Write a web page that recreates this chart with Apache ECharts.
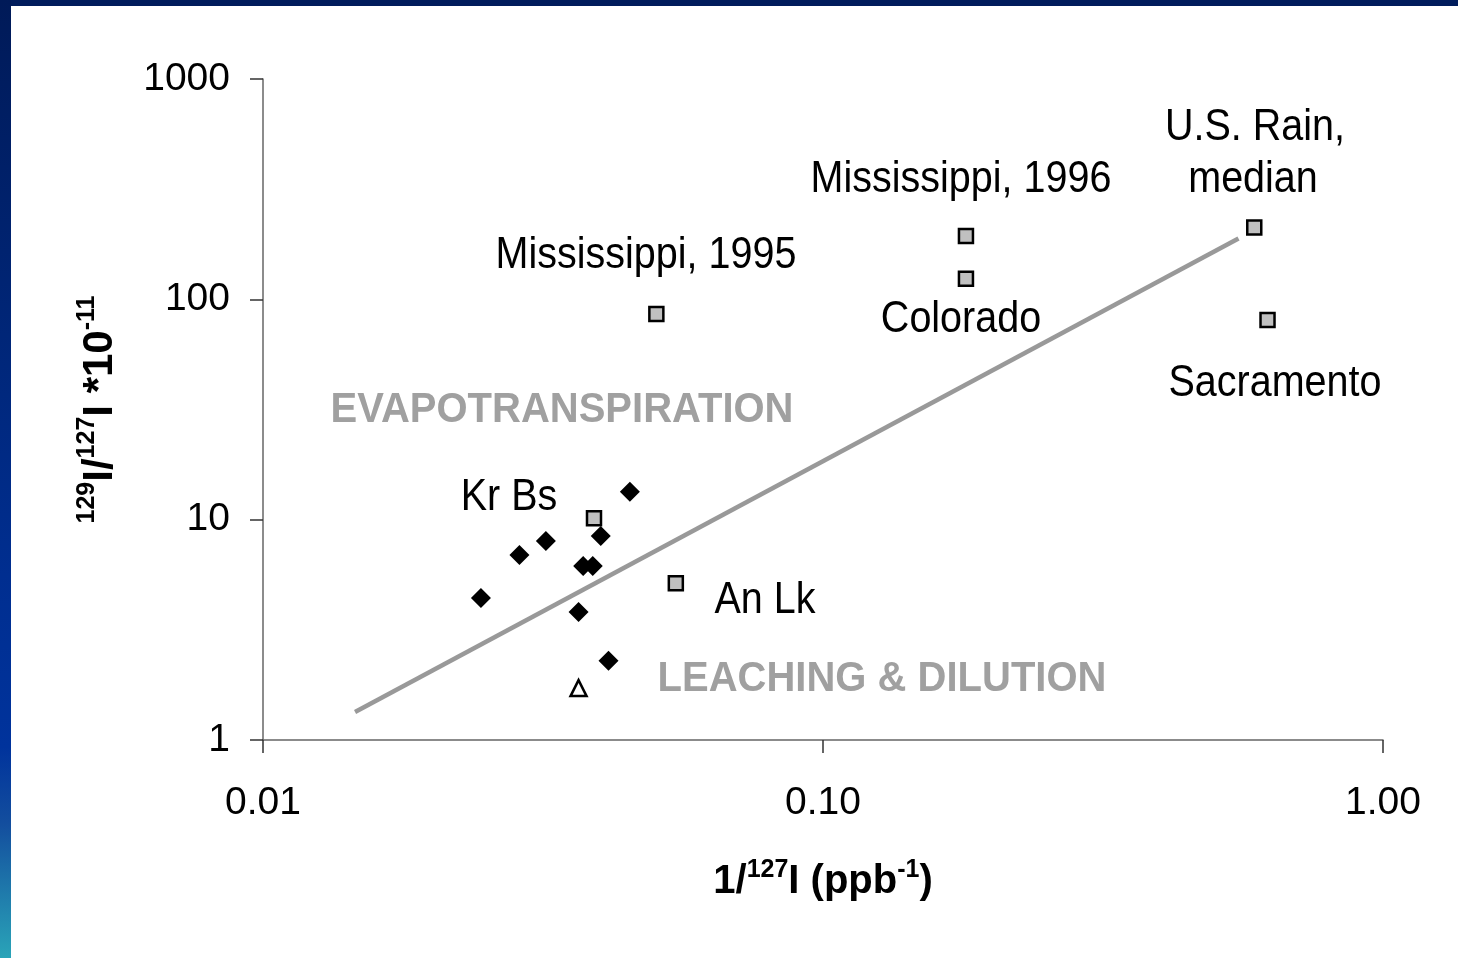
<!DOCTYPE html>
<html>
<head>
<meta charset="utf-8">
<title>Iodine isotope ratios</title>
<script src="https://cdn.jsdelivr.net/npm/echarts@6/dist/echarts.min.js"></script>
<style>
  html, body { margin: 0; padding: 0; background: #ffffff; }
  #chart { width: 1458px; height: 958px; }
</style>
</head>
<body>
<div id="chart"></div>
<script>
// Tick labels of the two log axes
const xTickValues = [0.01, 0.1, 1];
const xTickLabels = ['0.01', '0.10', '1.00'];
const yTickValues = [1, 10, 100, 1000];
const yTickLabels = ['1', '10', '100', '1000'];

// Kr Bs samples (filled diamonds): 1/127I in ppb^-1, 129I/127I x 1e-11
const sampleX = [0.0452, 0.0401, 0.0320, 0.0287, 0.0373, 0.0388, 0.0245, 0.0366, 0.0414];
const sampleY = [13.4, 8.43, 8.0, 6.91, 6.16, 6.16, 4.41, 3.81, 2.29];

// Single open-triangle sample
const openX = [0.0366];
const openY = [1.72];

// Reference sites (grey squares)
const siteNames = ['Mississippi, 1995', 'Mississippi, 1996', 'Colorado', 'U.S. Rain, median', 'Sacramento', 'Kr Bs', 'An Lk'];
const siteX = [0.0504, 0.180, 0.180, 0.589, 0.622, 0.0390, 0.0546];
const siteY = [85.9, 194, 124, 212, 80.6, 10.15, 5.15];

// Power-law trend line end points
const fitX = [0.0146, 0.552];
const fitY = [1.34, 189];

const zip = (xs, ys) => xs.map((x, i) => [x, ys[i]]);
const pickLabel = (vals, labels) => (v) => {
  let best = 0;
  vals.forEach((t, i) => {
    if (Math.abs(Math.log10(t) - Math.log10(v)) < Math.abs(Math.log10(vals[best]) - Math.log10(v))) best = i;
  });
  return labels[best];
};

const REG = "'Liberation Sans', Arial, sans-serif";

// Free-standing annotation text
function note(text, x, y, opts) {
  opts = opts || {};
  return {
    type: 'text', x: x, y: y, z: 10,
    scaleY: opts.scaleY || 1.12,
    style: {
      text: text,
      fill: opts.fill || '#000000',
      font: (opts.weight || 'normal') + ' ' + (opts.size || 39.5) + 'px ' + REG,
      align: 'center', verticalAlign: 'middle'
    }
  };
}

const chart = echarts.init(document.getElementById('chart'), null, { renderer: 'canvas' });

chart.setOption({
  backgroundColor: '#ffffff',
  animation: false,
  grid: { left: 263, right: 75, top: 79, bottom: 218, containLabel: false },
  xAxis: {
    type: 'log', logBase: 10, min: 0.01, max: 1,
    axisLine: { show: true, lineStyle: { color: '#666666', width: 1.5 } },
    axisTick: { show: true, length: 13, lineStyle: { color: '#333333', width: 1.5 } },
    minorTick: { show: false },
    splitLine: { show: false },
    axisLabel: {
      margin: 44, color: '#000000', fontSize: 39, fontFamily: REG,
      formatter: pickLabel(xTickValues, xTickLabels)
    },
    name: '{b|1/}{s|127}{b|I (ppb}{s|-1}{b|)}',
    nameLocation: 'middle', nameGap: 118,
    nameTextStyle: {
      rich: {
        b: { fontSize: 40, fontWeight: 'bold', fontFamily: REG, color: '#000', lineHeight: 44, verticalAlign: 'bottom' },
        s: { fontSize: 25, fontWeight: 'bold', fontFamily: REG, color: '#000', lineHeight: 26, verticalAlign: 'top' }
      }
    }
  },
  yAxis: {
    type: 'log', logBase: 10, min: 1, max: 1000,
    axisLine: { show: true, lineStyle: { color: '#666666', width: 1.5 } },
    axisTick: { show: true, length: 13, lineStyle: { color: '#333333', width: 1.5 } },
    minorTick: { show: false },
    splitLine: { show: false },
    axisLabel: {
      margin: 33, color: '#000000', fontSize: 39, fontFamily: REG,
      formatter: pickLabel(yTickValues, yTickLabels)
    },
    name: '{s|129}{b|I/}{s|127}{b|I *10}{s|-11}',
    nameLocation: 'middle', nameGap: 142, nameRotate: 90,
    nameTextStyle: {
      rich: {
        b: { fontSize: 42, fontWeight: 'bold', fontFamily: REG, color: '#000', lineHeight: 46, verticalAlign: 'bottom' },
        s: { fontSize: 25, fontWeight: 'bold', fontFamily: REG, color: '#000', lineHeight: 26, verticalAlign: 'top' }
      }
    }
  },
  series: [
    {
      name: 'Trend', type: 'line', data: zip(fitX, fitY),
      showSymbol: false, symbol: 'none',
      lineStyle: { color: '#999999', width: 4.5 }, z: 1, silent: true
    },
    {
      name: 'Sites', type: 'scatter', data: zip(siteX, siteY),
      symbol: 'rect', symbolSize: 14,
      itemStyle: { color: '#c0c0c0', borderColor: '#000000', borderWidth: 2.5, opacity: 1 }, z: 3
    },
    {
      name: 'Kr Bs samples', type: 'scatter', data: zip(sampleX, sampleY),
      symbol: 'diamond', symbolSize: 20,
      itemStyle: { color: '#000000', opacity: 1 }, z: 4
    },
    {
      name: 'Open sample', type: 'scatter', data: zip(openX, openY),
      symbol: 'triangle', symbolSize: 16,
      itemStyle: { color: '#ffffff', borderColor: '#000000', borderWidth: 2.5, opacity: 1 }, z: 4
    }
  ],
  graphic: [
    // frame bars
    { type: 'rect', shape: { x: 0, y: 0, width: 1458, height: 6 }, style: { fill: '#001c5c' }, z: -1 },
    {
      type: 'rect', shape: { x: 0, y: 0, width: 11, height: 958 }, z: -1,
      style: {
        fill: new echarts.graphic.LinearGradient(0, 0, 0, 1, [
          { offset: 0, color: '#001a58' },
          { offset: 0.35, color: '#002678' },
          { offset: 0.6, color: '#002e90' },
          { offset: 0.78, color: '#00339c' },
          { offset: 0.86, color: '#134e9e' },
          { offset: 1, color: '#2aa4b8' }
        ])
      }
    },
    note('Mississippi, 1995', 646, 256),
    note('Mississippi, 1996', 961, 180),
    note('U.S. Rain,', 1255, 128),
    note('median', 1253, 180),
    note('Colorado', 961, 320),
    note('Sacramento', 1275, 384),
    note('Kr Bs', 509, 498),
    note('An Lk', 765, 601),
    note('EVAPOTRANSPIRATION', 562, 410, { weight: 'bold', size: 40, fill: '#a0a0a0', scaleY: 1.05 }),
    note('LEACHING & DILUTION', 882, 679, { weight: 'bold', size: 40, fill: '#a0a0a0', scaleY: 1.05 })
  ]
});
</script>
</body>
</html>
